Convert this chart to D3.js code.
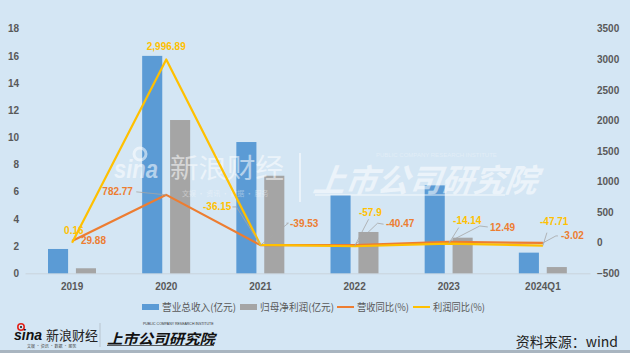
<!DOCTYPE html>
<html><head><meta charset="utf-8">
<script src="https://cdn.jsdelivr.net/npm/d3@7/dist/d3.min.js"></script>
<style>
html,body{margin:0;padding:0;background:#D4E6F4;}
svg{display:block;font-family:"Liberation Sans","Noto Sans CJK SC",sans-serif;}
</style></head>
<body>
<svg id="chart" width="630" height="353"></svg>
<script>
// ---- data ----
const categories = ["2019","2020","2021","2022","2023","2024Q1"];
const revenue = [1.79, 16.0, 9.66, 5.76, 6.47, 1.52];          // 营业总收入(亿元)
const profit = [0.37, 11.28, 7.18, 3.04, 2.62, 0.46];          // 归母净利润(亿元)
const revenueYoY = [29.88, 782.77, -39.53, -40.47, 12.49, -3.02]; // 营收同比(%)
const profitYoY = [0.16, 2996.89, -36.15, -57.9, -14.14, -47.71]; // 利润同比(%)
const revenueYoYLabels = ["29.88","782.77","-39.53","-40.47","12.49","-3.02"];
const profitYoYLabels = ["0.16","2,996.89","-36.15","-57.9","-14.14","-47.71"];
const leftTicks = [0,2,4,6,8,10,12,14,16,18];
const rightTicks = [-500,0,500,1000,1500,2000,2500,3000,3500];
const seriesNames = ["营业总收入(亿元)","归母净利润(亿元)","营收同比(%)","利润同比(%)"];

// ---- layout / style ----
const C = {blue:"#5B9BD5", gray:"#A5A5A5", orange:"#ED7D31", yellow:"#FFC000", text:"#595959"};
const svg = d3.select("#chart");
const x = d3.scaleBand().domain(categories).range([25, 590]);
const x1 = d3.scaleBand().domain(["rev","pro"]).range([23, 71]).paddingInner(0.28);
const yL = d3.scaleLinear().domain([0, 18]).range([273.3, 28.7]);
const yR = d3.scaleLinear().domain([-500, 3500]).range([273.3, 28.7]);
const cx = c => x(c) + x.bandwidth()/2;

// axes
const axL = svg.append("g").attr("transform","translate(19,0)")
  .call(d3.axisLeft(yL).tickValues(leftTicks).tickSize(0).tickPadding(0));
const axR = svg.append("g").attr("transform","translate(597,0)")
  .call(d3.axisRight(yR).tickValues(rightTicks).tickSize(0).tickPadding(0).tickFormat(d3.format("d")));
[axL, axR].forEach(a => {
  a.select(".domain").remove();
  a.selectAll("text").attr("fill", C.text).style("font-size","10px").style("font-weight","bold")
    .style("font-family","Liberation Sans, sans-serif");
});
const axX = svg.append("g").attr("transform","translate(0,273.3)")
  .call(d3.axisBottom(x).tickSize(0).tickPadding(10));
axX.select(".domain").attr("stroke","#C9D3DC").attr("stroke-width",1);
axX.selectAll("text").attr("fill", C.text).style("font-size","10px").style("font-weight","bold")
  .style("font-family","Liberation Sans, sans-serif");

// bars
svg.append("g").selectAll("rect.rev").data(categories).join("rect")
  .attr("x", (c) => x(c) + x1("rev")).attr("width", x1.bandwidth())
  .attr("y", (c,i) => yL(revenue[i])).attr("height", (c,i) => yL(0) - yL(revenue[i]))
  .attr("fill", C.blue);
svg.append("g").selectAll("rect.pro").data(categories).join("rect")
  .attr("x", (c) => x(c) + x1("pro")).attr("width", x1.bandwidth())
  .attr("y", (c,i) => yL(profit[i])).attr("height", (c,i) => yL(0) - yL(profit[i]))
  .attr("fill", C.gray);

// watermark (middle)
const wm = svg.append("g").attr("fill","#fff").attr("opacity",0.55);
wm.append("circle").attr("cx",140).attr("cy",154).attr("r",6).attr("fill","none").attr("stroke","#fff").attr("stroke-width",3);
wm.append("text").attr("x",114).attr("y",178).text("sina").style("font-size","26px").style("font-weight","bold").style("font-style","italic").attr("textLength",44).attr("lengthAdjust","spacingAndGlyphs");
wm.append("text").attr("x",170).attr("y",178).text("新浪财经").style("font-size","27px").style("font-family","Noto Sans CJK SC").attr("textLength",114).attr("lengthAdjust","spacingAndGlyphs");
wm.append("text").attr("x",182).attr("y",196).text("文娱 · 资讯 · 数据 · 服务").style("font-size","7px").style("font-family","Noto Sans CJK SC").attr("opacity",0.7);
wm.append("line").attr("x1",300).attr("x2",300).attr("y1",153).attr("y2",202).attr("stroke","#fff").attr("stroke-width",2);
wm.append("text").attr("x",313).attr("y",192).text("上市公司研究院").style("font-size",'32px').style("font-weight","bold").style("font-style","italic").style("font-family","Noto Sans CJK SC").attr("transform","skewX(-8) translate(26,0)");
wm.append("text").attr("x",376).attr("y",157).text("PUBLIC COMPANY RESEARCH INSTITUTE").style("font-size","6px").attr("opacity",0.6);
wm.append("line").attr("x1",315).attr("x2",505).attr("y1",195).attr("y2",195).attr("stroke","#fff").attr("stroke-width",1.5);

// lines
const line = arr => d3.line().x((c) => cx(c)).y((c,i) => yR(arr[i]))(categories);
svg.append("path").attr("d", line(revenueYoY)).attr("fill","none").attr("stroke",C.orange).attr("stroke-width",2.2).attr("stroke-linejoin","round");
svg.append("path").attr("d", line(profitYoY)).attr("fill","none").attr("stroke",C.yellow).attr("stroke-width",2.2).attr("stroke-linejoin","round");

// data labels: offsets [dx, dy, anchor] relative to the data point
const profitLabelPos = [[-8,-8.7,"start"],[0,-9.4,"middle"],[-57.4,-35.4,"start"],[4.4,-30.2,"start"],[4.3,-19.1,"start"],[-2.9,-21.1,"start"]];
const revLabelPos = [[8.9,3.1,"start"],[-33.3,0.2,"end"],[29.6,-18.6,"start"],[31.4,-17.7,"start"],[41.3,-11.4,"start"],[18.1,-3.9,"start"]];
// leader lines: start point offsets relative to data point (null = none)
const profitLeader = [null,null,[[-28,-38],[-24,-38]],[[14,-27],[14,-27]],[[10,-16],[10,-16]],[[4,-13],[4,-13]]];
const revLeader = [null,[[-30,-3],[-30,-3]],[[26,-22],[28,-22]],[[29,-21],[23,-22]],[[39,-15],[31,-16]],[[15,-7],[13,-7]]];

const leaders = svg.append("g").attr("fill","none").attr("stroke","#A6A6A6").attr("stroke-width",0.8);
function drawLeaders(arr, vals){
  arr.forEach((l,i) => {
    if(!l) return;
    const px = cx(categories[i]), py = yR(vals[i]);
    const pts = [[px+l[0][0], py+l[0][1]], [px+l[1][0], py+l[1][1]], [px, py]];
    leaders.append("path").attr("d", d3.line()(pts));
  });
}
drawLeaders(profitLeader, profitYoY);
drawLeaders(revLeader, revenueYoY);

function drawLabels(labels, vals, pos, color){
  svg.append("g").selectAll("text").data(categories).join("text")
    .attr("x", (c,i) => cx(c) + pos[i][0]).attr("y", (c,i) => yR(vals[i]) + pos[i][1])
    .attr("text-anchor", (c,i) => pos[i][2])
    .attr("fill", color).style("font-size","10px").style("font-weight","bold")
    .text((c,i) => labels[i]);
}
drawLabels(profitYoYLabels, profitYoY, profitLabelPos, C.yellow);
drawLabels(revenueYoYLabels, revenueYoY, revLabelPos, C.orange);

// legend
const lg = svg.append("g").style("font-family","Noto Sans CJK SC").style("font-size","10px").attr("fill",C.text);
const legendX = [142, 240, 337, 413];
const legendColors = [C.blue, C.gray, C.orange, C.yellow];
seriesNames.forEach((n,i) => {
  if(i < 2) lg.append("rect").attr("x",legendX[i]).attr("y",304).attr("width",17).attr("height",6).attr("fill",legendColors[i]);
  else lg.append("line").attr("x1",legendX[i]).attr("x2",legendX[i]+17).attr("y1",307).attr("y2",307).attr("stroke",legendColors[i]).attr("stroke-width",2);
  lg.append("text").attr("x",legendX[i]+20).attr("y",311).text(n).attr("textLength", i<2?74:52).attr("lengthAdjust","spacingAndGlyphs");
});

// footer
const ft = svg.append("g");
ft.append("circle").attr("cx",21).attr("cy",327).attr("r",3.2).attr("fill","none").attr("stroke","#E2231A").attr("stroke-width",1.6);
ft.append("circle").attr("cx",21).attr("cy",327).attr("r",1).attr("fill","#111");
ft.append("text").attr("x",14).attr("y",340).text("sina").attr("fill","#111").style("font-size","14px").style("font-weight","bold").style("font-style","italic");
ft.append("text").attr("x",46).attr("y",340).text("新浪财经").attr("fill","#222").style("font-size","13px").style("font-family","Noto Sans CJK SC");
ft.append("text").attr("x",27).attr("y",347.5).text("文娱 · 资讯 · 数据 · 服务").attr("fill","#444").style("font-size","4px").style("font-family","Noto Sans CJK SC");
ft.append("line").attr("x1",100).attr("x2",100).attr("y1",323).attr("y2",347).attr("stroke","#B8C4CE").attr("stroke-width",1);
ft.append("text").attr("x",107).attr("y",343.5).text("上市公司研究院").attr("fill","#111").style("font-size","14px").style("font-weight","bold").style("font-style","italic").style("font-family","Noto Sans CJK SC").attr("textLength",108).attr("lengthAdjust","spacingAndGlyphs");
ft.append("text").attr("x",143).attr("y",325).text("PUBLIC COMPANY RESEARCH INSTITUTE").attr("fill","#333").style("font-size","3.5px");
ft.append("line").attr("x1",107).attr("x2",214).attr("y1",345.5).attr("y2",345.5).attr("stroke","#333").attr("stroke-width",0.8);
ft.append("text").attr("x",618).attr("y",347).attr("text-anchor","end").text("资料来源：wind").attr("fill","#222").style("font-size","14px").style("font-family","Noto Sans CJK SC");
ft.append("rect").attr("x",0).attr("y",350).attr("width",630).attr("height",3).attr("fill","#A9B5C0");
</script>
</body></html>
